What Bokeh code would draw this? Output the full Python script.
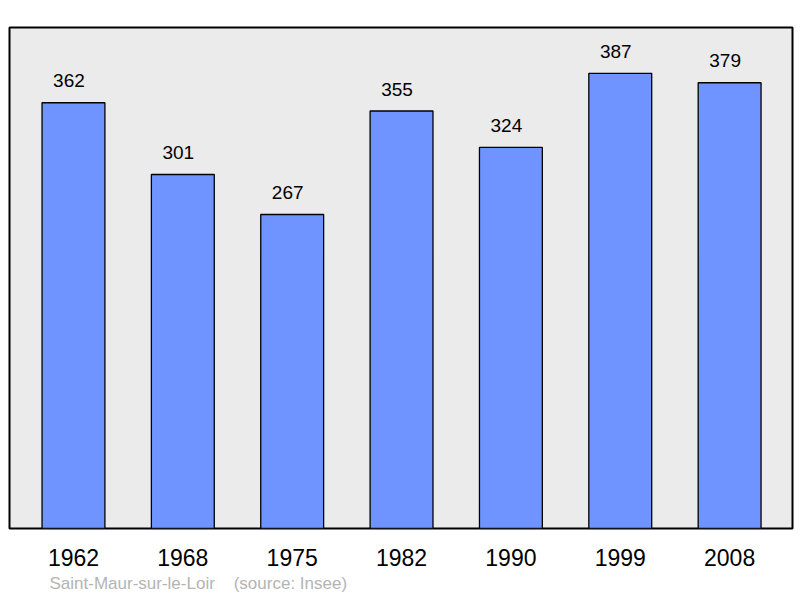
from bokeh.plotting import figure
from bokeh.models import ColumnDataSource, FixedTicker, Title, Range1d
from bokeh.core.properties import value
from bokeh.embed import file_html
from bokeh.resources import INLINE

years = ["1962", "1968", "1975", "1982", "1990", "1999", "2008"]
population = [362, 301, 267, 355, 324, 387, 379]
footer = "Saint-Maur-sur-le-Loir\u00a0\u00a0\u00a0\u00a0(source: Insee)"

xs = list(range(len(years)))
src = ColumnDataSource(dict(x=xs, top=population, label=[str(v) for v in population]))

p = figure(width=794, height=596, output_backend="svg", toolbar_location=None,
           x_range=Range1d(-0.585, 6.575), y_range=Range1d(0, 426),
           min_border_left=9, min_border_right=2, min_border_top=27, min_border_bottom=68)
p.background_fill_color = "#ebebeb"
p.border_fill_color = "white"
p.outline_line_color = "black"
p.outline_line_width = 2
p.outline_line_alpha = 1
p.grid.visible = False
p.yaxis.visible = False

p.vbar(x="x", top="top", bottom=0, width=0.575, source=src,
       fill_color="#7094ff", line_color="black", line_width=1.3)
p.text(x="x", y="top", text="label", source=src, text_align="center",
       text_baseline="middle", x_offset=-4.5, y_offset=-22, text_font_size="19px",
       text_font=value("Liberation Sans"), text_color="black")

ax = p.xaxis[0]
ax.ticker = FixedTicker(ticks=xs)
ax.major_label_overrides = {i: y for i, y in enumerate(years)}
ax.axis_line_color = None
ax.major_tick_line_color = None
ax.minor_tick_line_color = None
ax.major_label_text_font_size = "23px"
ax.major_label_text_font = "Liberation Sans"
ax.major_label_text_color = "black"
ax.major_label_standoff = 14

t = Title(text=footer, align="left", offset=40, text_font_size="17px",
          text_font="Liberation Sans", text_color="#b4b4b4", text_font_style="normal",
          standoff=6)
p.add_layout(t, "below")

open("out.html", "w").write(file_html(p, INLINE))
